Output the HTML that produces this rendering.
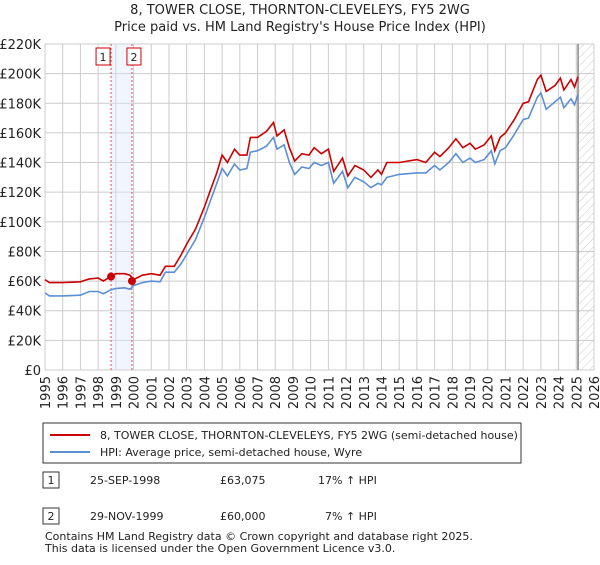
<!DOCTYPE html>
<html><head><meta charset="utf-8"><style>
body{margin:0;background:#fff;font-family:"Liberation Sans","DejaVu Sans",sans-serif;}
svg text{font-family:"DejaVu Sans","Liberation Sans",sans-serif;fill:#222;}
</style></head><body>
<svg id="c" width="600" height="560" xmlns="http://www.w3.org/2000/svg">
<defs><pattern id="hatch" width="6" height="6" patternUnits="userSpaceOnUse" patternTransform="rotate(45)"><line x1="0" y1="0" x2="0" y2="6" stroke="#ccc" stroke-width="1"/></pattern></defs>
<text x="300" y="14" text-anchor="middle" font-size="13">8, TOWER CLOSE, THORNTON-CLEVELEYS, FY5 2WG</text>
<text x="300" y="31" text-anchor="middle" font-size="13">Price paid vs. HM Land Registry's House Price Index (HPI)</text>
<g id="plot"></g>
<rect x="43" y="423" width="478" height="40" fill="#fff" stroke="#333"/>
<line x1="50" y1="435" x2="90" y2="435" stroke="#cc0000" stroke-width="2"/>
<text x="100" y="439" font-size="11">8, TOWER CLOSE, THORNTON-CLEVELEYS, FY5 2WG (semi-detached house)</text>
<line x1="50" y1="452" x2="90" y2="452" stroke="#5b8ed6" stroke-width="2"/>
<text x="100" y="456" font-size="11">HPI: Average price, semi-detached house, Wyre</text>
<rect x="43" y="472" width="16" height="16" fill="#fff" stroke="#333"/>
<text x="51" y="484" font-size="11" text-anchor="middle">1</text>
<text x="90" y="484" font-size="11">25-SEP-1998</text>
<text x="220" y="484" font-size="11">£63,075</text>
<text x="318" y="484" font-size="11">17% ↑ HPI</text>
<rect x="43" y="508" width="16" height="16" fill="#fff" stroke="#333"/>
<text x="51" y="520" font-size="11" text-anchor="middle">2</text>
<text x="90" y="520" font-size="11">29-NOV-1999</text>
<text x="220" y="520" font-size="11">£60,000</text>
<text x="325" y="520" font-size="11">7% ↑ HPI</text>
<text x="45" y="540" font-size="11" fill="#444">Contains HM Land Registry data © Crown copyright and database right 2025.</text>
<text x="45" y="552" font-size="11" fill="#444">This data is licensed under the Open Government Licence v3.0.</text>
</svg>
<script>
const years=[1995,1995.25,1996,1997,1997.5,1998,1998.3,1998.7,1999,1999.5,1999.8,2000,2000.5,2001,2001.5,2001.8,2002.3,2002.7,2003,2003.5,2004,2004.3,2004.7,2005,2005.3,2005.7,2006,2006.4,2006.6,2007,2007.5,2007.9,2008.1,2008.5,2008.8,2009.1,2009.5,2009.9,2010.2,2010.6,2011,2011.3,2011.8,2012.1,2012.5,2013,2013.4,2013.8,2014,2014.3,2015,2016,2016.5,2017,2017.3,2017.8,2018.2,2018.6,2019,2019.3,2019.8,2020.2,2020.4,2020.7,2021,2021.5,2022,2022.3,2022.8,2023,2023.3,2023.8,2024.1,2024.3,2024.7,2024.9,2025.1];
const priceSeries=[61,59,59,59.5,61.5,62,60,63,65,65,64,61,64,65,64,70,70,78,85,95,110,120,133,145,140,149,145,145,157,157,161,167,158,162,150,141,146,145,150,146,149,134,143,131,138,135,130,135,132,140,140,142,140,147,144,150,156,150,153,149,152,158,148,157,160,169,180,181,196,199,188,192,197,189,196,191,198];
const hpiSeries=[52,50,50,50.5,53,53,51.5,54,55,55.5,54.5,57,59,60,59.5,66,66,72,78,88,103,113,126,136,131,139,135,136,147,148,151,157,149,152,140,132,137,136,140,138,140,126,134,123,130,127,123,126,125,130,132,133,133,138,135,140,146,140,143,140,142,148,139,148,150,159,169,170,184,187,176,181,184,177,183,179,186];
const yTicks=[0,20,40,60,80,100,120,140,160,180,200,220];
const xTicks=[1995,1996,1997,1998,1999,2000,2001,2002,2003,2004,2005,2006,2007,2008,2009,2010,2011,2012,2013,2014,2015,2016,2017,2018,2019,2020,2021,2022,2023,2024,2025,2026];
const saleYears=[1998.73,1999.91];
const salePrices=[63.075,60];
const X0=45,X1=594,Y0=370,Y1=44;
const xs=v=>X0+(v-1995)/(2026-1995)*(X1-X0);
const ys=v=>Y0-v/220*(Y0-Y1);
const NS='http://www.w3.org/2000/svg';
const g=document.getElementById('plot');
function mk(t,a){const e=document.createElementNS(NS,t);for(const k in a)e.setAttribute(k,a[k]);g.appendChild(e);return e;}
for(const t of yTicks){
 const l=mk('line',{x1:X0,x2:X1,y1:ys(t),y2:ys(t),stroke:'#ccc'});
 
 
 const tx=mk('text',{x:X0-4,y:ys(t)+5,'text-anchor':'end','font-size':13});
 tx.textContent=t===0?'£0':'£'+t+'K';
 
 
}
for(const t of xTicks){
 const l=mk('line',{x1:xs(t),x2:xs(t),y1:Y1,y2:Y0,stroke:'#ccc'});
 
 
 const tx=mk('text',{x:0,y:0,'text-anchor':'end','font-size':13,transform:`translate(${xs(t)+5},${Y0+6}) rotate(-90)`});
 tx.textContent=t;
 
 
}
const band=mk('rect',{x:xs(saleYears[0]),y:Y1,width:xs(saleYears[1])-xs(saleYears[0]),height:Y0-Y1,fill:'#dde6fb',opacity:0.4});


const fx=xs(2025.1);
const hat=mk('rect',{x:fx,y:Y1,width:X1-fx,height:Y0-Y1,fill:'url(#hatch)'});


const vl=mk('line',{x1:fx,x2:fx,y1:Y1,y2:Y0,stroke:'#888','stroke-width':1.5});


saleYears.forEach((s,i)=>{
 const d=mk('line',{x1:xs(s),x2:xs(s),y1:Y1,y2:Y0,stroke:'#e05050','stroke-dasharray':'2,2'});
 
 
 const b=mk('rect',{x:xs(s)-(i===0?8:-2)-7,y:48,width:14,height:17,fill:'#fff',stroke:'#cc0000'});
 
 
 const t=mk('text',{x:xs(s)-(i===0?8:-2),y:61,'text-anchor':'middle','font-size':11});
 t.textContent=i+1;
 
 
});
function path(vals,col,name){
 const p=mk('path',{d:vals.map((v,i)=>(i?'L':'M')+xs(years[i]).toFixed(1)+','+ys(v).toFixed(1)).join(''),fill:'none',stroke:col,'stroke-width':1.6});
 
 
}
path(hpiSeries,'#5b8ed6','hpi-line');
path(priceSeries,'#cc0000','price-line');
saleYears.forEach((s,i)=>{
 const c=mk('circle',{cx:xs(s),cy:ys(salePrices[i]),r:4,fill:'#cc0000'});
 
 
});
</script>
</body></html>
